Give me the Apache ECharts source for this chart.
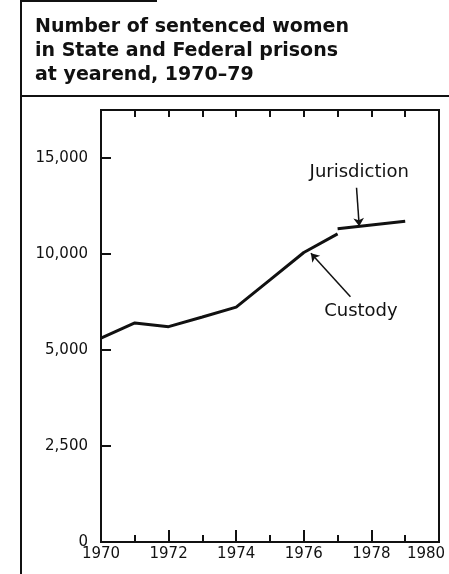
<!DOCTYPE html>
<html lang="en">
    <head>
        <meta http-equiv="Content-Type" content="text/html; charset=utf-8" />
        <title>Sentenced women in prisons 1970-79</title>
        <style>
            * {
                margin: 0;
                padding: 0;
                box-sizing: border-box;
            }
            html,
            body {
                width: 100%;
                height: 100%;
                background: #fff;
            }
            #chart {
                width: 449px;
                height: 574px;
            }
        </style>
    </head>
    <body>
        <div id="chart"></div>
        <script src="https://cdn.jsdelivr.net/npm/echarts@6/dist/echarts.min.js"></script>
        <script>
            // data
            const custodyYears = [1970, 1971, 1972, 1973, 1974, 1975, 1976, 1977]
            const custodyValues = [5620, 6410, 6215, 6720, 7230, 8650, 10080, 11050]
            const jurisdictionYears = [1977, 1978, 1979]
            const jurisdictionValues = [11320, 11510, 11700]
            // the y axis has unequal steps: 0, 2,500, 5,000, 10,000, 15,000 sit at equal distances
            const yTickValues = [0, 2500, 5000, 10000, 15000]
            const xTickYears = [1970, 1972, 1974, 1976, 1978, 1980]

            // annotations (year, value)
            const jurisdictionLabel = [1977.64, 14250]
            const jurisdictionArrow = [[1977.56, 13450], [1977.64, 11450]]
            const custodyLabel = [1977.69, 7000]
            const custodyArrow = [[1977.38, 7775], [1976.21, 10035]]

            // value -> position on the stepped axis
            function toPos(v) {
                for (let i = 1; i < yTickValues.length; i++) {
                    if (v <= yTickValues[i] || i === yTickValues.length - 1) {
                        const a = yTickValues[i - 1]
                        const b = yTickValues[i]
                        return i - 1 + (v - a) / (b - a)
                    }
                }
            }

            const ink = '#111'
            const font = 'DejaVu Sans'

            const chart = echarts.init(document.getElementById('chart'), null, { renderer: 'canvas' })
            chart.setOption({
                animation: false,
                backgroundColor: '#fff',
                title: {
                    text: 'Number of sentenced women\nin State and Federal prisons\nat yearend, 1970–79',
                    left: 30,
                    top: 10,
                    textStyle: {
                        fontFamily: font,
                        fontWeight: 'bold',
                        fontSize: 19,
                        lineHeight: 24,
                        color: ink,
                    },
                },
                grid: {
                    left: 101,
                    right: 10,
                    top: 110,
                    bottom: 32,
                    outerBoundsMode: 'none',
                    show: true,
                    borderColor: ink,
                    borderWidth: 2,
                },
                xAxis: [
                    {
                        type: 'value',
                        min: 1970,
                        max: 1980,
                        interval: 2,
                        axisLine: { show: false },
                        splitLine: { show: false },
                        axisTick: { inside: true, length: 12, lineStyle: { color: ink, width: 2 } },
                        minorTick: { show: true, splitNumber: 2, length: 7, lineStyle: { color: ink, width: 2 } },
                        axisLabel: {
                            margin: 5,
                            fontFamily: font,
                            fontSize: 15,
                            color: ink,
                            formatter: (v) => {
                                if (!xTickYears.includes(v)) return ''
                                // last label sits a little left of its tick, as in the original
                                return v === xTickYears[xTickYears.length - 1] ? '{last|' + v + '}' : String(v)
                            },
                            rich: {
                                last: { fontFamily: font, fontSize: 15, color: ink, padding: [0, 26, 0, 0] },
                            },
                        },
                    },
                    {
                        type: 'value',
                        position: 'top',
                        min: 1970,
                        max: 1980,
                        interval: 1,
                        axisLine: { show: false },
                        splitLine: { show: false },
                        axisLabel: { show: false },
                        axisTick: { inside: true, length: 7, lineStyle: { color: ink, width: 2 } },
                    },
                ],
                yAxis: {
                    type: 'value',
                    min: 0,
                    max: 4.5,
                    interval: 1,
                    axisLine: { show: false },
                    splitLine: { show: false },
                    axisTick: { inside: true, length: 10, lineStyle: { color: ink, width: 2 } },
                    axisLabel: {
                        margin: 13,
                        fontFamily: font,
                        fontSize: 15,
                        color: ink,
                        formatter: (v) => {
                            const t = yTickValues[v]
                            return t === undefined ? '' : t.toLocaleString('en-US')
                        },
                    },
                },
                series: [
                    {
                        name: 'Custody',
                        type: 'line',
                        symbol: 'none',
                        lineStyle: { color: ink, width: 3 },
                        data: custodyYears.map((y, i) => [y, toPos(custodyValues[i])]),
                        markLine: {
                            silent: true,
                            symbol: ['none', 'arrow'],
                            symbolSize: 8,
                            label: { show: false },
                            lineStyle: { color: ink, width: 1.5, type: 'solid' },
                            data: [jurisdictionArrow, custodyArrow].map((arr) =>
                                arr.map((p) => ({ coord: [p[0], toPos(p[1])] }))
                            ),
                        },
                        markPoint: {
                            silent: true,
                            symbol: 'circle',
                            symbolSize: 1,
                            itemStyle: { color: 'transparent' },
                            label: {
                                show: true,
                                position: 'inside',
                                fontFamily: font,
                                fontSize: 18,
                                color: ink,
                                formatter: (p) => p.name,
                            },
                            data: [
                                { name: 'Jurisdiction', coord: [jurisdictionLabel[0], toPos(jurisdictionLabel[1])] },
                                { name: 'Custody', coord: [custodyLabel[0], toPos(custodyLabel[1])] },
                            ],
                        },
                    },
                    {
                        name: 'Jurisdiction',
                        type: 'line',
                        symbol: 'none',
                        lineStyle: { color: ink, width: 3 },
                        data: jurisdictionYears.map((y, i) => [y, toPos(jurisdictionValues[i])]),
                    },
                ],
                graphic: [
                    // page frame: left rule, top rule and the line under the title
                    { type: 'line', shape: { x1: 21, y1: 0, x2: 21, y2: 574 }, style: { stroke: ink, lineWidth: 2 } },
                    { type: 'line', shape: { x1: 21, y1: 1, x2: 157, y2: 1 }, style: { stroke: ink, lineWidth: 2 } },
                    { type: 'line', shape: { x1: 21, y1: 96, x2: 449, y2: 96 }, style: { stroke: ink, lineWidth: 2 } },
                ],
            })
        </script>
    </body>
</html>
